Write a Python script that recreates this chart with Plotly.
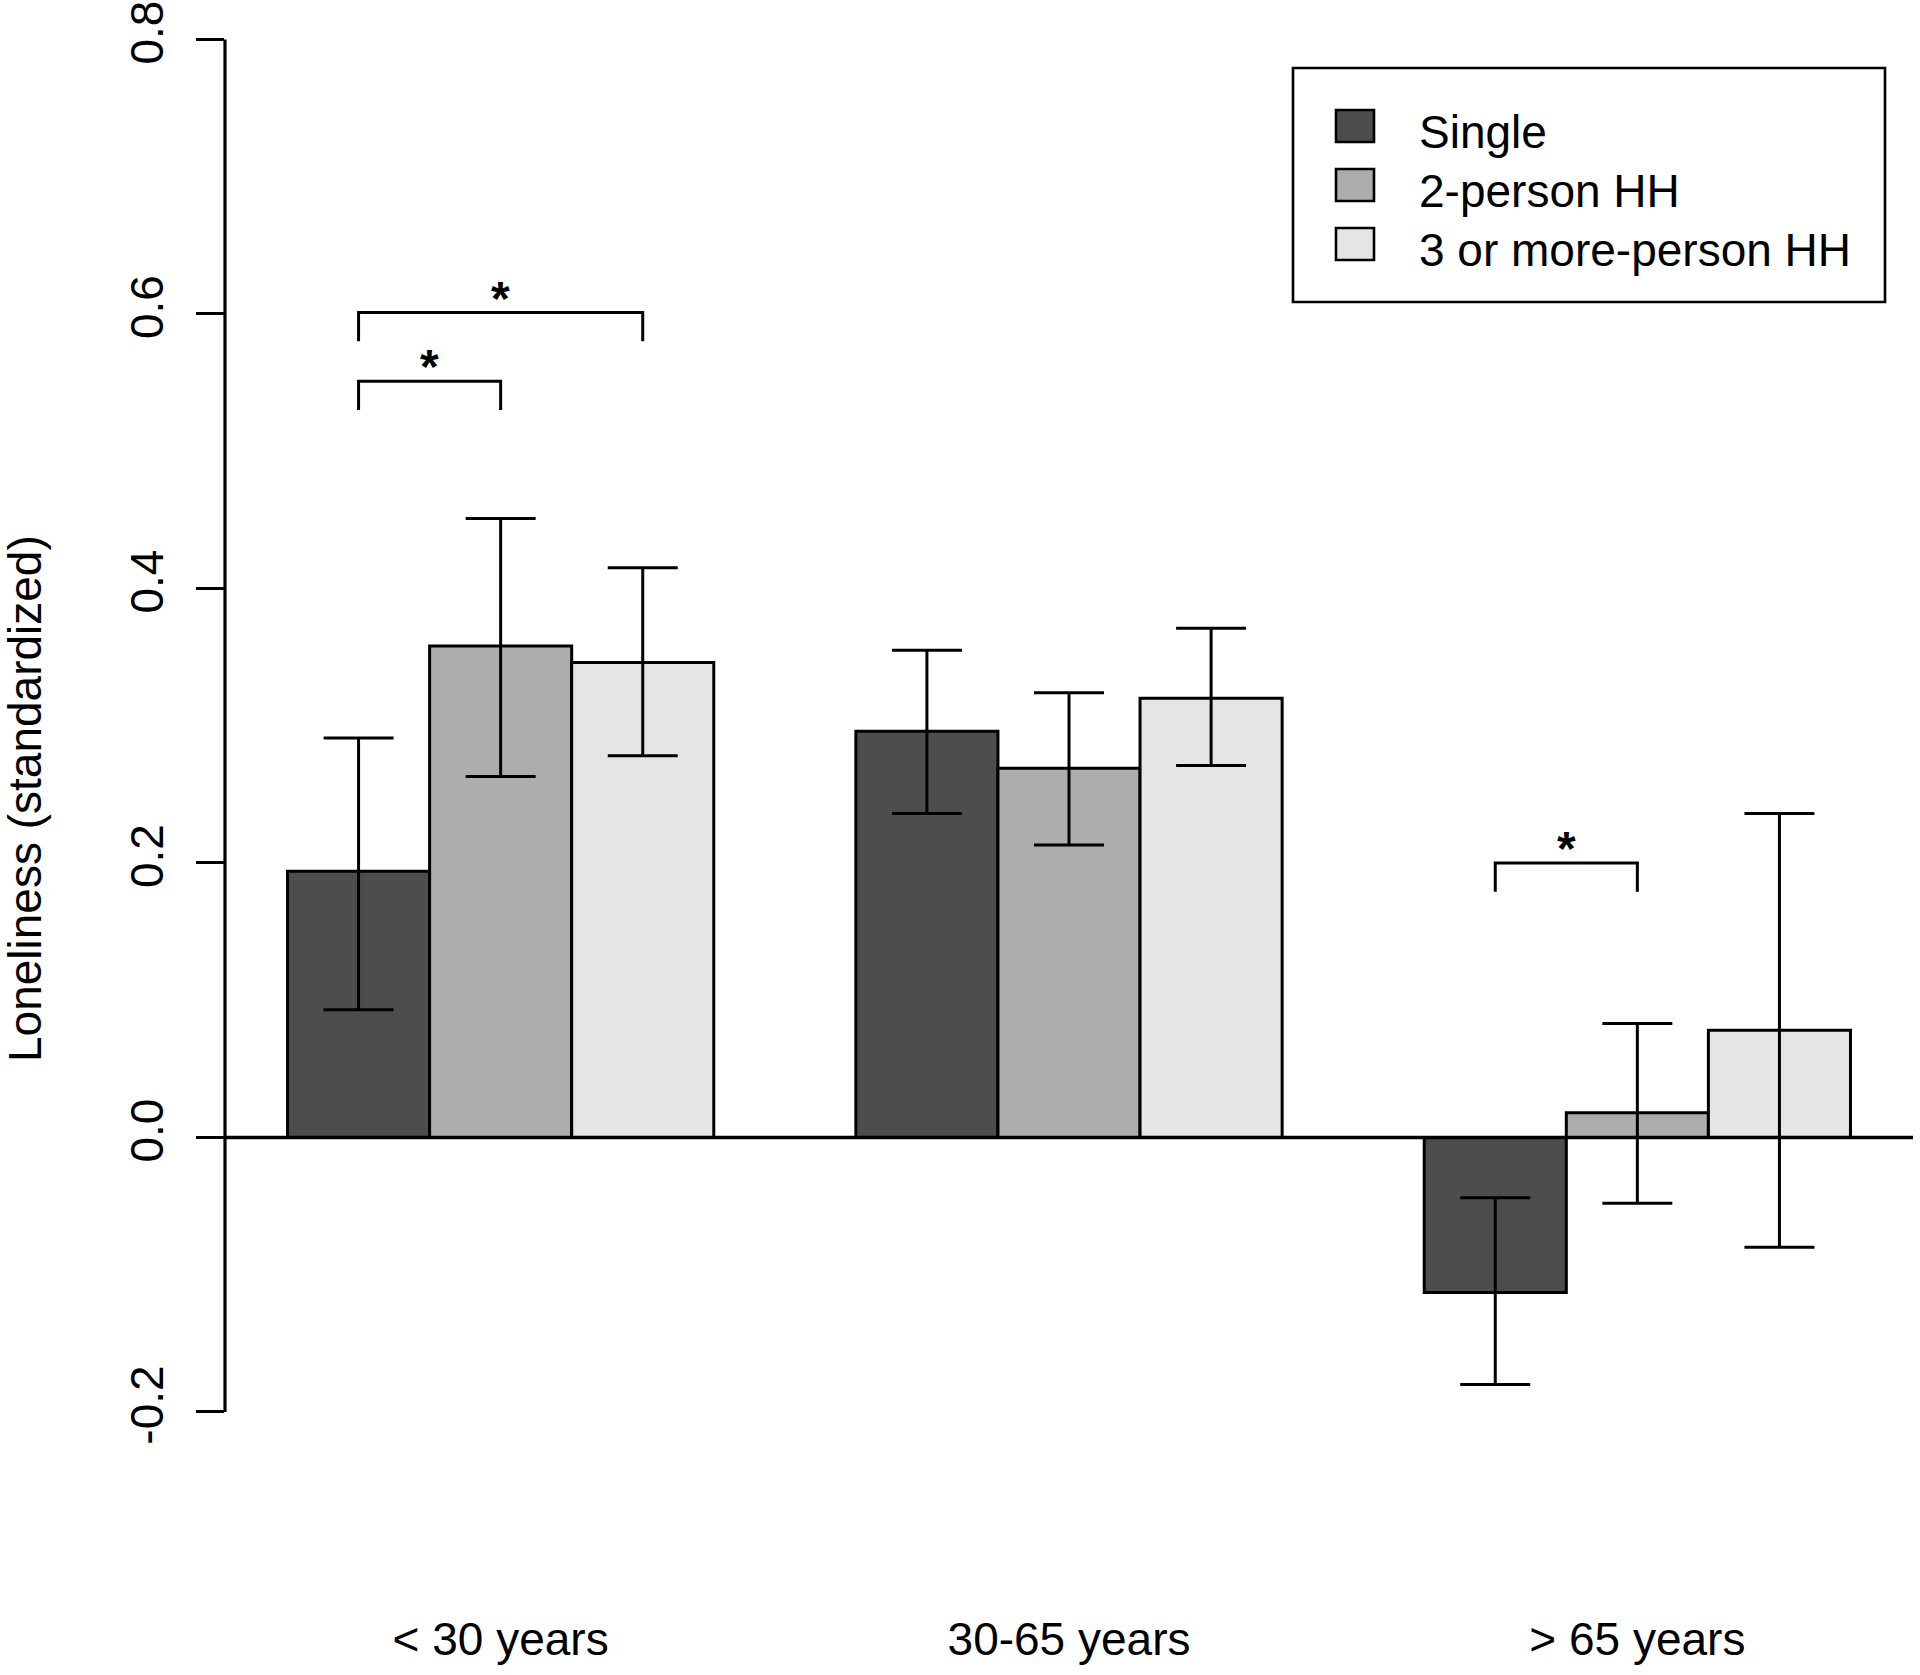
import plotly.graph_objects as go

# ---------------- data ----------------
categories = ["< 30 years", "30-65 years", "> 65 years"]
series_names = ["Single", "2-person HH", "3 or more-person HH"]

single_vals = [0.194, 0.296, -0.113]
two_vals = [0.358, 0.269, 0.018]
three_vals = [0.346, 0.320, 0.078]

single_hi = [0.291, 0.355, -0.044]
single_lo = [0.093, 0.236, -0.180]
two_hi = [0.451, 0.324, 0.083]
two_lo = [0.263, 0.213, -0.048]
three_hi = [0.415, 0.371, 0.236]
three_lo = [0.278, 0.271, -0.080]

y_ticks = [-0.2, 0.0, 0.2, 0.4, 0.6, 0.8]
y_tick_labels = ["-0.2", "0.0", "0.2", "0.4", "0.6", "0.8"]
y_title = "Loneliness (standardized)"

# significance brackets
sig_group = [0, 0, 2]
sig_from = [0, 0, 0]
sig_to = [2, 1, 1]
sig_height = [0.601, 0.551, 0.200]
sig_label = ["*", "*", "*"]

# ---------------- style ----------------
W, H = 1920, 1675
ML, MR, MT, MB = 225, 7, 0, 77
PW, PH = W - ML - MR, H - MT - MB
PX_PER_UNIT = 1372.5
ZERO_PX = 1137.4
y_range = [-(MT + PH - ZERO_PX) / PX_PER_UNIT, (ZERO_PX - MT) / PX_PER_UNIT]
x_range = [-0.485, 2.485]
FONT = "Liberation Sans, Arial, Helvetica, sans-serif"
FS = 46
colors = ["#4D4D4D", "#ADADAD", "#E5E5E5"]
BAR_W = 0.25
TIP = 0.021
LW = 3


def px_x(p):
    return (p - ML) / PW


def px_y(p):
    return (MT + PH - p) / PH


vals = [single_vals, two_vals, three_vals]
his = [single_hi, two_hi, three_hi]
los = [single_lo, two_lo, three_lo]

fig = go.Figure()
for s in range(3):
    fig.add_trace(go.Bar(
        x=categories, y=vals[s], name=series_names[s],
        marker=dict(color=colors[s], line=dict(color="black", width=LW)),
        error_y=dict(type="data", symmetric=False,
                     array=[h - v for h, v in zip(his[s], vals[s])],
                     arrayminus=[v - l for v, l in zip(vals[s], los[s])],
                     color="black", thickness=LW, width=35),
        showlegend=False,
    ))

shapes = []
annotations = []

# zero line and y axis line
shapes.append(dict(type="line", xref="paper", yref="y", x0=0, x1=1, y0=0, y1=0,
                   line=dict(color="black", width=3.5), layer="above"))
shapes.append(dict(type="line", xref="paper", yref="y", x0=0, x1=0,
                   y0=y_ticks[0], y1=y_ticks[-1],
                   line=dict(color="black", width=3.2)))

# significance brackets
for g, a, b, h, lab in zip(sig_group, sig_from, sig_to, sig_height, sig_label):
    xa = g + (a - 1) * BAR_W
    xb = g + (b - 1) * BAR_W
    shapes.append(dict(type="path", xref="x", yref="y",
                       path=f"M {xa} {h - TIP} L {xa} {h} L {xb} {h} L {xb} {h - TIP}",
                       line=dict(color="black", width=LW)))
    annotations.append(dict(x=(xa + xb) / 2, y=h, xref="x", yref="y", text="<b>" + lab + "</b>",
                            showarrow=False, yanchor="bottom", yshift=-14,
                            font=dict(family=FONT, size=48, color="black")))

# legend box
LX0, LX1, LY0, LY1 = 1293, 1885, 68, 302
shapes.append(dict(type="rect", xref="paper", yref="paper",
                   x0=px_x(LX0), x1=px_x(LX1), y0=px_y(LY1), y1=px_y(LY0),
                   line=dict(color="black", width=2.6), fillcolor="white"))
row_y = [126, 185, 244]
for s in range(3):
    cy = row_y[s]
    shapes.append(dict(type="rect", xref="paper", yref="paper",
                       x0=px_x(1336), x1=px_x(1374), y0=px_y(cy + 16), y1=px_y(cy - 16),
                       line=dict(color="black", width=2.6), fillcolor=colors[s]))
    annotations.append(dict(x=px_x(1417), y=px_y(cy + 6), xref="paper", yref="paper",
                            text=series_names[s], showarrow=False,
                            xanchor="left", yanchor="middle",
                            font=dict(family=FONT, size=FS, color="black")))

# y axis title
annotations.append(dict(x=px_x(25), y=0.5, xref="paper", yref="paper", text=y_title,
                        textangle=-90, showarrow=False, xanchor="center", yanchor="middle",
                        font=dict(family=FONT, size=FS, color="black")))

fig.update_layout(
    width=W, height=H,
    margin=dict(l=ML, r=MR, t=MT, b=MB, pad=0, autoexpand=False),
    paper_bgcolor="white", plot_bgcolor="white",
    barmode="group", bargap=0.25, bargroupgap=0,
    font=dict(family=FONT, size=FS, color="black"),
    shapes=shapes, annotations=annotations,
    xaxis=dict(type="category", range=x_range, showgrid=False, zeroline=False, automargin=False,
               showline=False, ticks="", ticklabelstandoff=10,
               tickfont=dict(family=FONT, size=FS, color="black")),
    yaxis=dict(range=y_range, showgrid=False, zeroline=False, showline=False, automargin=False,
               tickmode="array", tickvals=y_ticks, ticktext=y_tick_labels,
               ticks="outside", ticklen=28, tickwidth=3, tickcolor="black",
               ticklabelstandoff=15,
               tickangle=-90, tickfont=dict(family=FONT, size=FS, color="black")),
)

fig.write_html("out.html", config={"displayModeBar": False},
               post_script="document.body.style.margin='0';document.body.style.padding='0';")
